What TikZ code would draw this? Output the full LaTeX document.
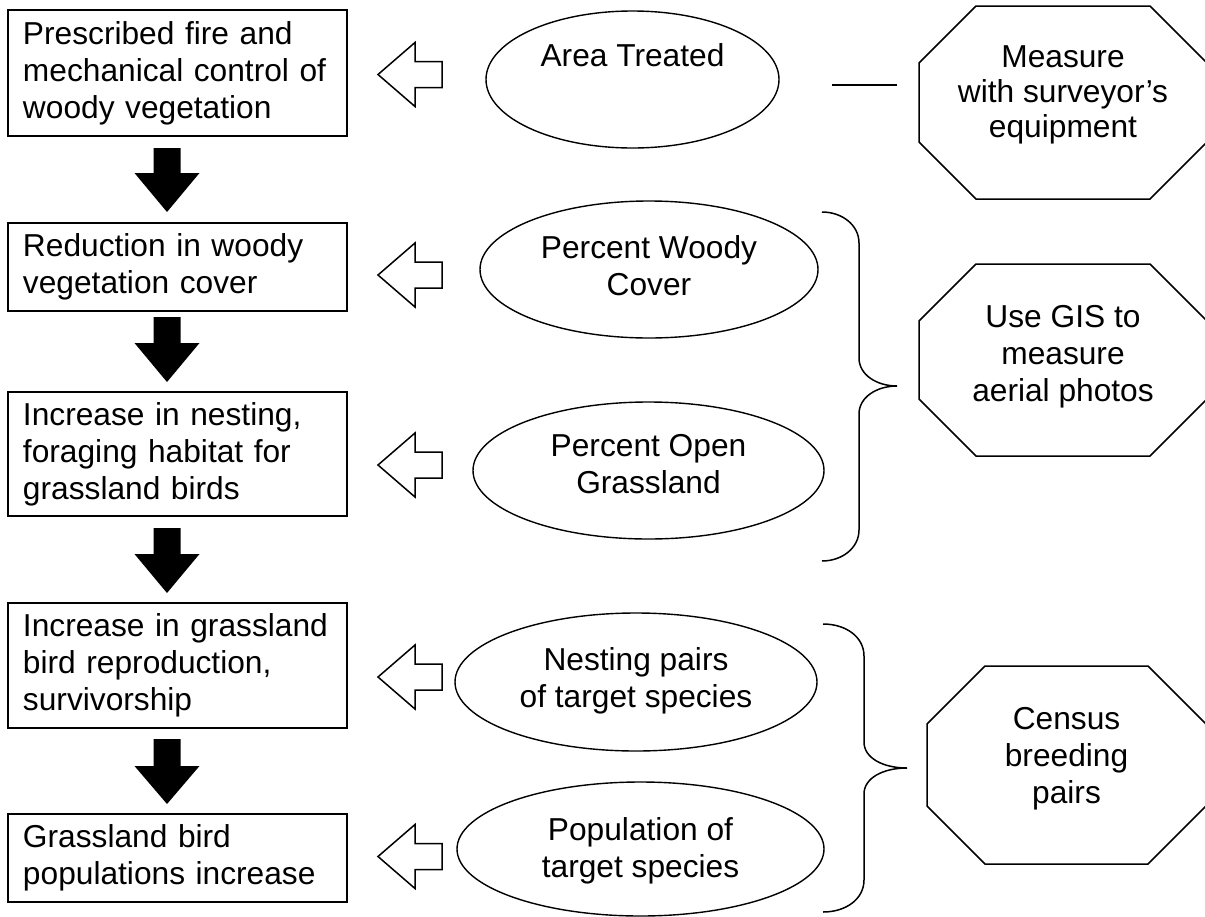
\documentclass[tikz,border=0pt]{standalone}
\usepackage{fontspec}
\setmainfont{Liberation Sans}
\usetikzlibrary{shapes.geometric}

% solid block arrow pointing down: x, top of shaft, start of head, tip
\newcommand\blockdown[4]{%
  \fill[black] (#1-13.5,#2) -- (#1+13.5,#2) -- (#1+13.5,#3) -- (#1+32.5,#3)
    -- (#1,#4) -- (#1-32.5,#3) -- (#1-13.5,#3) -- cycle;}
% hollow block arrow pointing left, centred on a given height
\newcommand\blockleft[1]{%
  \draw[outline] (378,#1) -- (415,#1-32) -- (415,#1-13) -- (442,#1-13)
    -- (442,#1+13) -- (415,#1+13) -- (415,#1+32) -- cycle;}
% octagon from its bounding corners and chamfer size
\newcommand\octo[5]{%
  \draw[outline] (#1+#5,#2) -- (#3-#5,#2) -- (#3,#2+#5) -- (#3,#4-#5)
    -- (#3-#5,#4) -- (#1+#5,#4) -- (#1,#4-#5) -- (#1,#2+#5) -- cycle;}

\begin{document}
\begin{tikzpicture}[x=1pt,y=-1pt,
  every node/.style={font=\fontsize{31.7}{37}\selectfont},
  outline/.style={line width=1.5pt, line join=miter},
  stepbox/.style={draw, line width=1.6pt, minimum width=339pt, text width=309pt,
    inner xsep=15pt, inner ysep=0pt, align=left},
  oval/.style={draw, ellipse, line width=1.4pt, inner sep=0pt},
  ovaltext/.style={align=center, inner sep=0pt},
]
\clip (0,0) rectangle (1205,916);
\fill[white] (0,0) rectangle (1205,916);

% chain of outcomes
\node[stepbox, minimum height=126pt] (b1) at (177.5,73)
  {Prescribed fire and\\mechanical control of\\woody vegetation};
\node[stepbox, minimum height=88pt] (b2) at (177.5,267)
  {Reduction in woody\\vegetation cover};
\node[stepbox, minimum height=124pt] (b3) at (177.5,454)
  {Increase in nesting,\\foraging habitat for\\grassland birds};
\node[stepbox, minimum height=125pt] (b4) at (177.5,665.5)
  {Increase in grassland\\bird reproduction,\\survivorship};
\node[stepbox, minimum height=88pt] (b5) at (177.5,858)
  {Grassland bird\\populations increase};

\blockdown{167}{148}{173}{212}
\blockdown{167}{317}{343}{382}
\blockdown{167}{528}{554}{593}
\blockdown{167}{739}{766}{804}

% indicators
\node[oval, minimum width=293pt, minimum height=137pt] (e1) at (632.5,79.5) {};
\node[oval, minimum width=338pt, minimum height=137pt] (e2) at (649,269.5) {};
\node[oval, minimum width=351pt, minimum height=137pt] (e3) at (648.5,470.5) {};
\node[oval, minimum width=362pt, minimum height=138pt] (e4) at (636,682) {};
\node[oval, minimum width=367pt, minimum height=134pt] (e5) at (640.5,849) {};

\node[ovaltext] (t1) at (632.5,55.5) {Area Treated};
\node[ovaltext] (t2) at (649,266) {Percent Woody\\Cover};
\node[ovaltext] (t3) at (648.5,464.5) {Percent Open\\Grassland};
\node[ovaltext] (t4) at (636,681) {Nesting pairs\\of target species};
\node[ovaltext] (t5) at (640.5,851) {Population of\\target species};

\blockleft{74.5}
\blockleft{275}
\blockleft{465}
\blockleft{677}
\blockleft{856.5}

% measurement methods
\octo{919}{6}{1207}{199}{57}
\octo{919}{264}{1207}{456}{57}
\octo{927}{666}{1206}{864}{58}

\node[ovaltext, font=\fontsize{31.7}{35}\selectfont] (m1) at (1063,95.3)
  {Measure\\with surveyor’s\\equipment};
\node[ovaltext] (m2) at (1063,357) {Use GIS to\\measure\\aerial photos};
\node[ovaltext] (m3) at (1066.5,759) {Census\\breeding\\pairs};

% link and braces
\coordinate (l1) at (832,85);
\coordinate (l2) at (897,85);
\draw[outline] (l1) -- (l2);

\draw[outline] (822,212) .. controls (842,212) and (859,225) .. (859,243)
  -- (859,358) .. controls (859,375) and (877,386) .. (897,386)
  .. controls (877,386) and (859,397) .. (859,414)
  -- (859,530) .. controls (859,548) and (842,561) .. (822,561);

\draw[outline] (823,624) .. controls (846,624) and (864,637) .. (864,656)
  -- (864,742) .. controls (864,758) and (883,768) .. (907,768)
  .. controls (883,768) and (864,778) .. (864,794)
  -- (864,880) .. controls (864,899) and (846,912) .. (823,912);
\end{tikzpicture}
\end{document}
